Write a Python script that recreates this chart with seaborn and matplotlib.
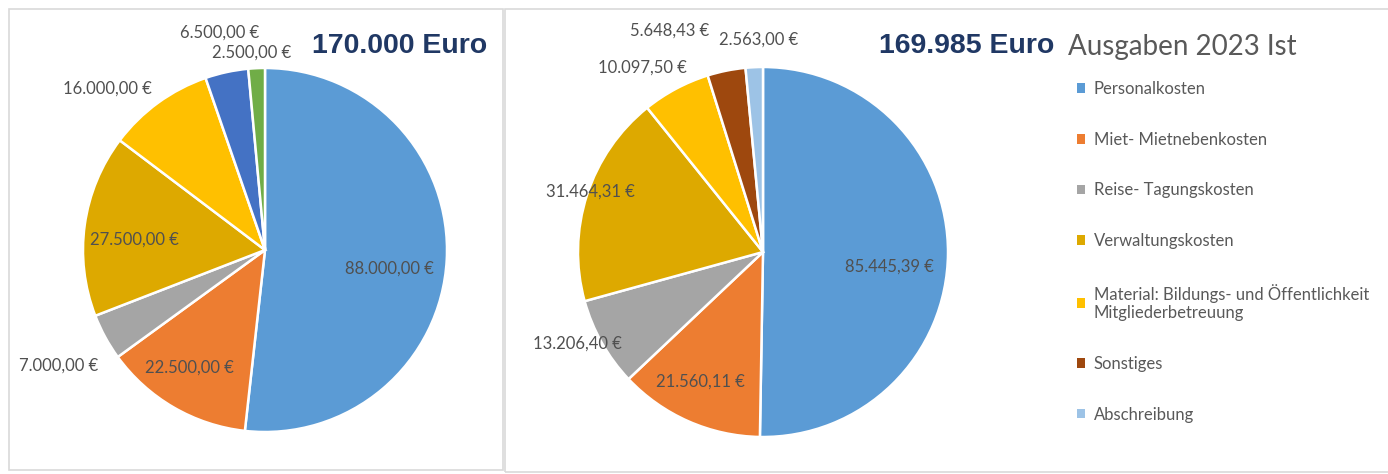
import matplotlib
matplotlib.use("Agg")
import matplotlib.pyplot as plt
import seaborn as sns
import numpy as np
from matplotlib.patches import Rectangle

sns.set_theme(style="white")
plt.rcParams['font.family'] = ['Lato', 'DejaVu Sans']

# ---------------- data ----------------
categories_left = ["Personalkosten", "Miet- Mietnebenkosten", "Reise- Tagungskosten",
                   "Verwaltungskosten", "Material", "Sonstiges", "Abschreibung"]
values_left = [88000.00, 22500.00, 7000.00, 27500.00, 16000.00, 6500.00, 2500.00]
labels_left = ["88.000,00 €", "22.500,00 €", "7.000,00 €", "27.500,00 €",
               "16.000,00 €", "6.500,00 €", "2.500,00 €"]
title_left = "170.000 Euro"

categories_right = ["Personalkosten", "Miet- Mietnebenkosten", "Reise- Tagungskosten",
                    "Verwaltungskosten",
                    "Material: Bildungs- und Öffentlichkeit\nMitgliederbetreuung",
                    "Sonstiges", "Abschreibung"]
values_right = [85445.39, 21560.11, 13206.40, 31464.31, 10097.50, 5648.43, 2563.00]
labels_right = ["85.445,39 €", "21.560,11 €", "13.206,40 €", "31.464,31 €",
                "10.097,50 €", "5.648,43 €", "2.563,00 €"]
title_right = "169.985 Euro"
subtitle_right = "Ausgaben 2023 Ist"

colors_left = ["#5B9BD5", "#ED7D31", "#A5A5A5", "#DDA900", "#FFC000", "#4472C4", "#70AD47"]
colors_right = ["#5B9BD5", "#ED7D31", "#A5A5A5", "#DDA900", "#FFC000", "#9E480E", "#9DC3E6"]

# label placement (radius fraction, angle nudge in degrees)
lab_r_left = [0.69, 0.77, 1.30, 0.72, 1.24, 1.22, 1.085]
lab_da_left = [-5.5, -2.6, 0.6, 3.5, 8.3, -0.5, 1.2]
lab_r_right = [0.69, 0.78, 1.12, 0.99, 1.19, 1.30, 1.146]
lab_da_right = [-6.2, -2.1, -3.1, -1.5, 5.0, 11.4, -1.6]

W, H = 1388, 474
fig = plt.figure(figsize=(W / 100, H / 100), dpi=100)
fig.patch.set_facecolor("white")

def px(x, y):
    return x / W, 1 - y / H

# panel borders
fig.add_artist(Rectangle((9 / W, 1 - 470 / H), 494 / W, 461 / H, transform=fig.transFigure,
                         fill=False, edgecolor="#D9D9D9", linewidth=1.2))
fig.add_artist(Rectangle((505 / W, 1 - 472 / H), 900 / W, 463 / H, transform=fig.transFigure,
                         fill=False, edgecolor="#D9D9D9", linewidth=1.2))

def draw_pie(cx, cy, R, values, colors, labels, lab_r, lab_da):
    ax = fig.add_axes([(cx - R) / W, (H - cy - R) / H, 2 * R / W, 2 * R / H])
    wedges, _ = ax.pie(values, colors=colors, startangle=90, counterclock=False,
                       wedgeprops=dict(edgecolor="white", linewidth=1.8))
    ax.set_xlim(-1, 1)
    ax.set_ylim(-1, 1)
    ax.set_aspect("equal")
    ax.axis("off")
    for w, lab, r, da in zip(wedges, labels, lab_r, lab_da):
        mid = np.deg2rad((w.theta1 + w.theta2) / 2 + da)
        ax.text(r * np.cos(mid), r * np.sin(mid), lab, ha="center", va="center",
                fontsize=12, color="#505050", clip_on=False)
    return wedges

draw_pie(265, 250, 182, values_left, colors_left, labels_left, lab_r_left, lab_da_left)
wedges_r = draw_pie(763, 252, 185, values_right, colors_right, labels_right,
                    lab_r_right, lab_da_right)

# titles
fig.text(*px(400, 46), title_left, ha="center", va="center", fontsize=20.5,
         fontweight="bold", color="#203864", family="Liberation Sans")
fig.text(*px(967, 46), title_right, ha="center", va="center", fontsize=20.5,
         fontweight="bold", color="#203864", family="Liberation Sans")
fig.text(*px(1068, 47), subtitle_right, ha="left", va="center", fontsize=20,
         color="#595959")

# legend
leg = fig.legend(wedges_r, categories_right, loc="upper left",
                 bbox_to_anchor=px(1077, 81), frameon=False, fontsize=12,
                 labelspacing=2.08, handlelength=0.5, handleheight=0.5,
                 handletextpad=0.5, borderpad=0, borderaxespad=0)
for t in leg.get_texts():
    t.set_color("#595959")
for h in leg.legend_handles:
    h.set_edgecolor("none")

fig.savefig("out.png", dpi=100, facecolor="white")
